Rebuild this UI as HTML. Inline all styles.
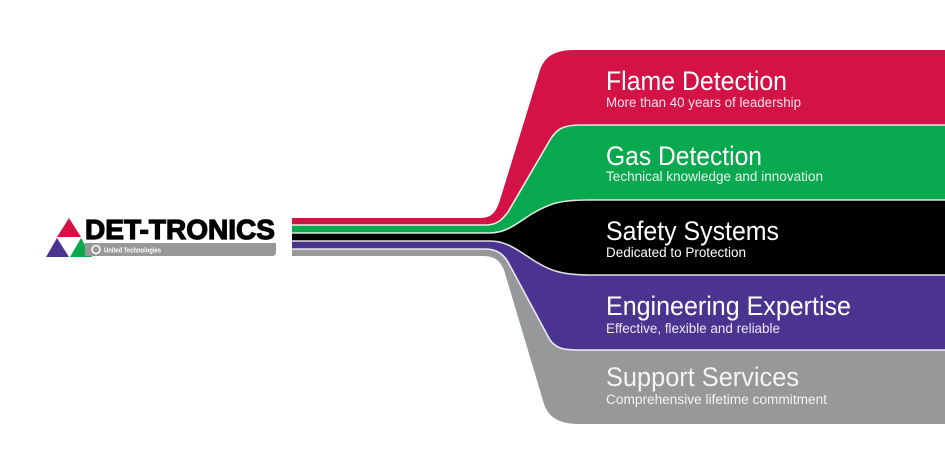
<!DOCTYPE html>
<html><head><meta charset="utf-8"><style>
html,body{margin:0;padding:0;background:#fff;width:945px;height:451px;overflow:hidden}
svg{display:block}
text{font-family:"Liberation Sans",sans-serif;fill:#fff}
</style></head><body>
<svg width="945" height="451" viewBox="0 0 945 451" xmlns="http://www.w3.org/2000/svg">
<!-- gray -->
<path d="M292,249 H485 C497,249 503,254 508,262 L550,340 C556,348 562,350 580,350 H945 V424 H578 C558,424 548,416 544,404 L504,270 C500,260 494,256 482,256 H292 Z" fill="#97989a"/>
<!-- purple -->
<path d="M292,241 H490 C505,241 515,248 530,258 C548,270 560,275 590,275 H945 V350 H580 C562,350 556,348 550,340 L508,262 C503,254 497,249 485,249 H292 Z" fill="#4b3490"/>
<!-- black -->
<path d="M292,233 H490 C505,233 515,225 530,215 C550,203 560,200 590,200 H945 V275 H590 C560,275 548,270 530,258 C515,248 505,241 490,241 H292 Z" fill="#000"/>
<!-- green -->
<path d="M292,225 H485 C497,225 502,220 508,212 L550,140 C556,130 562,125 580,125 H945 V200 H590 C560,200 550,203 530,215 C515,225 505,233 490,233 H292 Z" fill="#0aa84f"/>
<!-- red -->
<path d="M292,218 H480 C492,218 496,212 500,200 L540,70 C545,56 555,50 575,50 H945 V125 H580 C562,125 556,130 550,140 L508,212 C502,220 497,225 485,225 H292 Z" fill="#d31245"/>
<!-- separators -->
<g fill="none" stroke="#fff" stroke-width="1.6" opacity="0.85">
<path d="M292,225 H485 C497,225 502,220 508,212 L550,140 C556,130 562,125 580,125 H945"/>
<path d="M292,233 H490 C505,233 515,225 530,215 C550,203 560,200 590,200 H945"/>
<path d="M292,241 H490 C505,241 515,248 530,258 C548,270 560,275 590,275 H945"/>
<path d="M292,249 H485 C497,249 503,254 508,262 L550,340 C556,348 562,350 580,350 H945"/>
</g>
<!-- texts -->
<text x="606" y="90" font-size="27" textLength="181" lengthAdjust="spacingAndGlyphs">Flame Detection</text>
<text x="606" y="107" font-size="13.5" textLength="195" lengthAdjust="spacingAndGlyphs" style="fill:#fbe3ea">More than 40 years of leadership</text>
<text x="606" y="165" font-size="27" textLength="156" lengthAdjust="spacingAndGlyphs">Gas Detection</text>
<text x="606" y="181" font-size="13.5" textLength="217" lengthAdjust="spacingAndGlyphs" style="fill:#e6f5ea">Technical knowledge and innovation</text>
<text x="606" y="240" font-size="27" textLength="173" lengthAdjust="spacingAndGlyphs">Safety Systems</text>
<text x="606" y="257" font-size="13.5" textLength="140" lengthAdjust="spacingAndGlyphs">Dedicated to Protection</text>
<text x="606" y="315" font-size="27" textLength="245" lengthAdjust="spacingAndGlyphs">Engineering Expertise</text>
<text x="606" y="333" font-size="13.5" textLength="174" lengthAdjust="spacingAndGlyphs" style="fill:#ece8f5">Effective, flexible and reliable</text>
<text x="606" y="386" font-size="27" textLength="193" lengthAdjust="spacingAndGlyphs" style="fill:#f4f4f4">Support Services</text>
<text x="606" y="404" font-size="13.5" textLength="221" lengthAdjust="spacingAndGlyphs" style="fill:#f4f4f4">Comprehensive lifetime commitment</text>
<!-- logo -->
<polygon points="69,218 81,237 57,237" fill="#d31245"/>
<polygon points="57,238 69,257 46,257" fill="#4b3490"/>
<polygon points="81,238 92,257 70,257" fill="#0aa84f"/>
<path d="M85,243 H276 V252 Q276,256 272,256 H85 Z" fill="#97989a"/>
<circle cx="96" cy="249.5" r="4" fill="none" stroke="#fff" stroke-width="1.5"/>
<text x="104" y="252.5" font-size="7" font-weight="bold" textLength="57" lengthAdjust="spacingAndGlyphs">United Technologies</text>
<text x="85" y="239" font-size="28" font-weight="bold" textLength="190" lengthAdjust="spacingAndGlyphs" style="fill:#000;stroke:#000;stroke-width:1.2">DET-TRONICS</text>
</svg>
</body></html>
